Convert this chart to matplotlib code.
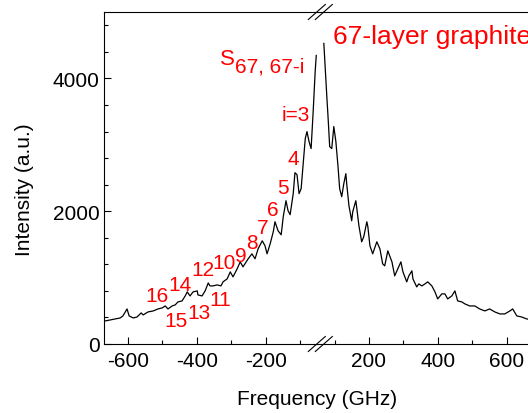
import matplotlib
matplotlib.use('Agg')
import matplotlib.pyplot as plt
from matplotlib.lines import Line2D

plt.rcParams['font.family'] = ['Liberation Sans', 'DejaVu Sans']
plt.rcParams['axes.unicode_minus'] = False

# negative side of the spectrum (GHz, a.u.)
freq_neg = [-667, -652, -638, -623, -615, -603, -597, -585, -574, -562, -556, -542,
            -527, -513, -501, -492, -484, -472, -463, -455, -443, -434, -428, -420,
            -411, -399, -397, -385, -376, -367, -362, -353, -341, -330, -324, -312,
            -303, -295, -283, -274, -266, -251, -240, -231, -222, -210, -202, -196,
            -187, -178, -173, -164, -155, -149, -141, -135, -129, -120, -115, -109,
            -103, -97, -91, -85, -80, -74, -68, -62, -56, -53]
inten_neg = [347, 362, 377, 392, 423, 528, 423, 392, 407, 468, 438, 483,
             498, 528, 543, 573, 528, 573, 589, 634, 649, 724, 785, 724,
             785, 800, 739, 724, 800, 920, 875, 875, 890, 875, 936, 981,
             1086, 1011, 1132, 1237, 1162, 1283, 1358, 1283, 1434, 1554, 1479, 1358,
             1509, 1690, 1841, 1705, 1645, 1916, 2158, 2007, 1947, 2264, 2580, 2550,
             2264, 2339, 2716, 3093, 3199, 3048, 2943, 3501, 4120, 4346]

# positive side of the spectrum
freq_pos = [69, 78, 81, 86, 92, 98, 104, 110, 115, 121, 127, 133, 136, 142, 150,
            153, 162, 165, 171, 179, 185, 194, 197, 203, 211, 223, 232, 240, 246,
            255, 267, 275, 284, 293, 299, 310, 316, 325, 328, 339, 345, 354, 363,
            371, 383, 392, 400, 412, 421, 429, 441, 450, 458, 470, 479, 493, 508,
            522, 537, 551, 566, 581, 595, 610, 618, 630, 644, 659, 680, 700]
inten_pos = [4527, 3697, 3441, 2973, 2943, 3275, 3048, 2686, 2339, 2218, 2414, 2565,
             2384, 2082, 1856, 1992, 2158, 2037, 1781, 1539, 1615, 1841, 1766, 1479,
             1358, 1539, 1434, 1207, 1177, 1403, 1237, 1026, 1132, 1237, 1086, 936,
             1026, 1102, 981, 860, 905, 875, 905, 936, 875, 785, 679, 755, 755, 679,
             724, 800, 649, 634, 604, 573, 573, 528, 498, 528, 483, 453, 453, 498,
             528, 423, 407, 377, 365, 355]

# mode index labels (text, GHz, a.u.)
mode_labels = [('4', -120, 2792), ('5', -149, 2354), ('6', -178, 2022),
               ('7', -210, 1750), ('8', -240, 1524), ('9', -272, 1328),
               ('10', -321, 1222), ('12', -382, 1117), ('14', -449, 890),
               ('16', -516, 724), ('11', -333, 664), ('13', -394, 468),
               ('15', -461, 347)]

fig = plt.figure(figsize=(5.28, 4.14), dpi=100)
W, H = 528.0, 414.0
bot = (H - 345) / H
hgt = (345 - 13) / H
xbreak = 317.3
ax1 = fig.add_axes([104 / W, bot, (xbreak - 104) / W, hgt])
ax2 = fig.add_axes([xbreak / W, bot, 223.6 / W, hgt], sharey=ax1)

ax1.plot(freq_neg, inten_neg, color='black', lw=0.9)
ax2.plot(freq_pos, inten_pos, color='black', lw=0.9)

ax1.set_xlim(-670, -50)
ax2.set_xlim(50, 700)
ax1.set_ylim(0, 5000)

ax1.set_xticks([-600, -400, -200])
ax1.set_xticks([-500, -300, -100], minor=True)
ax2.set_xticks([200, 400, 600])
ax2.set_xticks([100, 300, 500], minor=True)
ax1.set_yticks([0, 2000, 4000])
ax1.set_yticks([400, 800, 1200, 1600, 2400, 2800, 3200, 3600, 4400, 4800], minor=True)

for ax in (ax1, ax2):
    ax.tick_params(which='major', direction='in', length=5, width=0.8,
                   labelsize=15, pad=5)
    ax.tick_params(which='minor', direction='in', length=3, width=0.8)
    for s in ax.spines.values():
        s.set_linewidth(0.8)
ax1.spines['right'].set_visible(False)
ax2.spines['left'].set_visible(False)
ax2.tick_params(axis='y', which='both', left=False, labelleft=False)
ax1.tick_params(axis='y', pad=3)

# break marks
for yc in (13, 345):
    for dx in (0, 7):
        x0 = (xbreak - 9 + dx) / W
        x1 = (xbreak + 8 + dx) / W
        y0 = (H - yc - 7.5) / H
        y1 = (H - yc + 7.5) / H
        fig.add_artist(Line2D([x0, x1], [y0, y1], color='black', lw=0.8))

fig.text(xbreak / W, 1 - 400 / H, 'Frequency (GHz)', ha='center', va='center', fontsize=15)
fig.text(25 / W, 1 - 190 / H, 'Intensity (a.u.)', ha='center', va='center',
         rotation=90, fontsize=15)

red = '#ff0000'
for txt, fx, fy in mode_labels:
    ax1.text(fx, fy, txt, color=red, fontsize=15, ha='center', va='center')
ax1.text(-72, 3456, 'i=3', color=red, fontsize=15, ha='right', va='center')
ax1.text(-312, 4300, 'S', color=red, fontsize=16, ha='center', va='center')
ax1.text(-290, 4187, '67, 67-i', color=red, fontsize=15, ha='left', va='center')
ax2.text(95, 4633, '67-layer graphite', color=red, fontsize=19, ha='left',
         va='center', clip_on=False)

fig.savefig('out.png', dpi=100)
